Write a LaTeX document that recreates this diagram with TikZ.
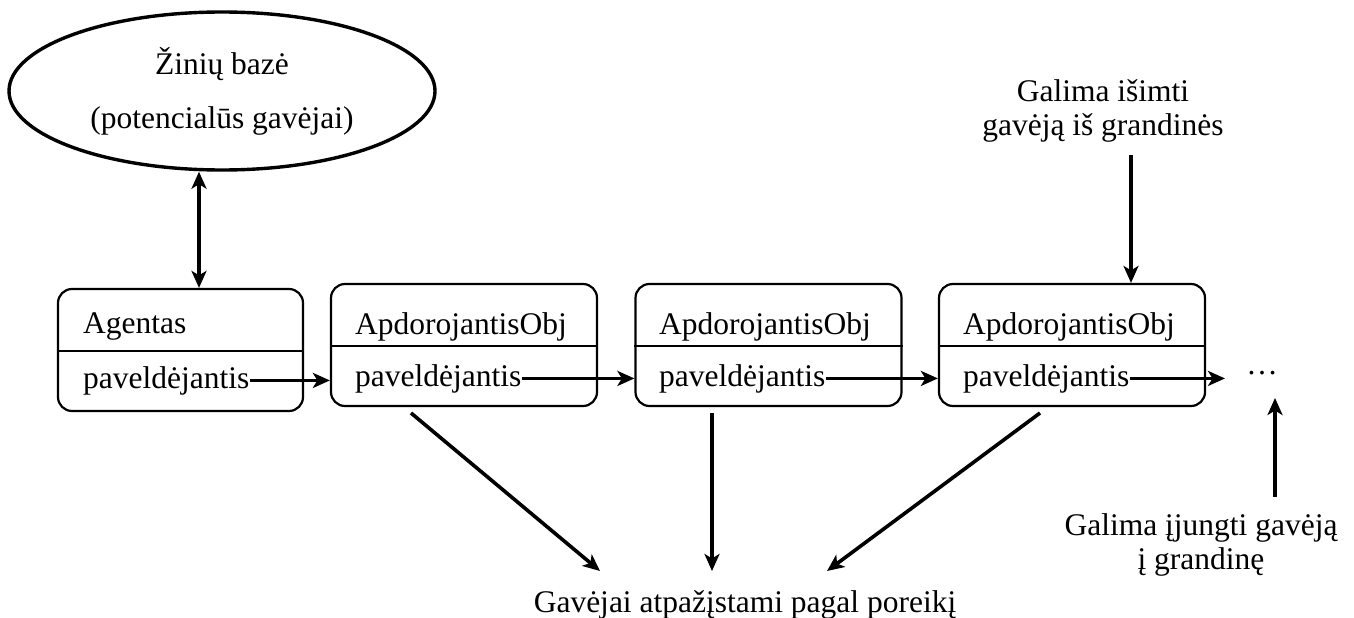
\documentclass[tikz,border=0pt]{standalone}
\usepackage{fontspec}
\setmainfont{Liberation Serif}
\usetikzlibrary{shapes.geometric,arrows.meta,calc}
\begin{document}
\begin{tikzpicture}[x=1pt,y=-1pt,
  every node/.style={font=\fontsize{31.5}{34}\selectfont, inner sep=0pt},
  kb/.style={ellipse, draw, line width=3.4pt, minimum width=426pt, minimum height=158pt,
             align=center, font=\fontsize{31.5}{54}\selectfont},
  objbox/.style={draw, line width=2.2pt, rounded corners=14pt,
                 minimum width=#1, minimum height=122pt},
  divider/.style={line width=2pt},
  lbl/.style={anchor=base west},
  note/.style={align=center},
  arr/.style={line width=3.6pt, -{Stealth[length=17pt,width=15pt,inset=4.5pt]}},
  darr/.style={line width=3.6pt, {Stealth[length=17pt,width=15pt,inset=4.5pt]}-{Stealth[length=17pt,width=15pt,inset=4.5pt]}}]

\useasboundingbox (0,0) rectangle (1354,618);

% knowledge base
\node[kb] (kb) at (222,91) {Žinių bazė\\(potencialūs gavėjai)};

% agent and the chain of processing objects
\node[objbox=245pt] (b1) at (180.5,350) {};
\node[objbox=266pt] (b2) at (464,345) {};
\node[objbox=266pt] (b3) at (768.5,345) {};
\node[objbox=266pt] (b4) at (1072,345) {};

\foreach \b in {b1,b2,b3,b4}
  \draw[divider] ($(\b.west)+(0,1)$) -- ($(\b.east)+(0,1)$);

\node[lbl] (h1) at (83,333) {Agentas};
\node[lbl] (p1) at (83,388) {paveldėjantis};
\node[lbl] (h2) at (355,334) {ApdorojantisObj};
\node[lbl] (p2) at (355,386) {paveldėjantis};
\node[lbl] (h3) at (659,334) {ApdorojantisObj};
\node[lbl] (p3) at (659,386) {paveldėjantis};
\node[lbl] (h4) at (963,334) {ApdorojantisObj};
\node[lbl] (p4) at (963,386) {paveldėjantis};

\node[anchor=base] (dots) at (1262,374) {…};

% annotations
\node[note] (n1) at (1103,111) {Galima išimti\\gavėją iš grandinės};
\node[note] (n2) at (1201,545) {Galima įjungti gavėją\\į grandinę};
\node[anchor=base] (g) at (745,612) {Gavėjai atpažįstami pagal poreikį};

% free ends of connectors
\coordinate (kbx) at (199,0);
\coordinate (more) at (1225,0);
\coordinate (rm) at (1131,155);
\coordinate (in0) at (1275,497);
\coordinate (in1) at (1275,398);
\coordinate (s2) at (411,413);
\coordinate (s3) at (712,413);
\coordinate (s4) at (1040,413);
\coordinate (t2) at (600,571);
\coordinate (t3) at (712,571);
\coordinate (t4) at (827,571);

% connectors
\draw[darr] (kb.south -| kbx) -- (b1.north -| kbx);
\draw[arr] (p1.east) -- (p1.east -| b2.west);
\draw[arr] (p2.east) -- (p2.east -| b3.west);
\draw[arr] (p3.east) -- (p3.east -| b4.west);
\draw[arr] (p4.east) -- (p4.east -| more);
\draw[arr] (rm) -- (rm |- b4.north);
\draw[arr] (in0) -- (in1);
\draw[arr] (s2) -- (t2);
\draw[arr] (s3) -- (t3);
\draw[arr] (s4) -- (t4);
\end{tikzpicture}
\end{document}
